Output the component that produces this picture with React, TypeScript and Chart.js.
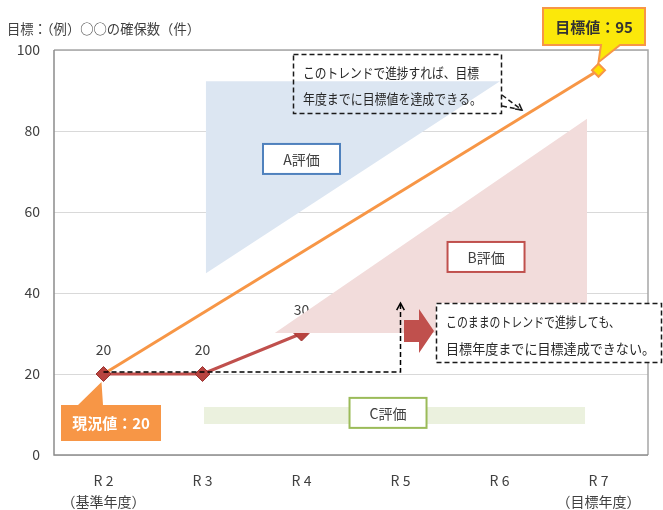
import React, { useEffect, useRef } from "react";
import { Chart, registerables } from "chart.js";

Chart.register(...registerables);

// ---- data ----
const categories: string[][] = [["R 2", "（基準年度）"], ["R 3"], ["R 4"], ["R 5"], ["R 6"], ["R 7", "（目標年度）"]];
const currentValues: (number | null)[] = [20, 20, 30, null, null, null];
const targetValues: (number | null)[] = [20, null, null, null, null, 95];
const yMin = 0;
const yMax = 100;
const yStep = 20;
const yAxisTitle = "目標：（例）○○の確保数（件）";
const currentLabel = "現況値：20";
const targetLabel = "目標値：95";
const noteTop = ["このトレンドで進捗すれば、目標", "年度までに目標値を達成できる。"];
const noteBottom = ["このままのトレンドで進捗しても、", "目標年度までに目標達成できない。"];
const zoneLabels = ["A評価", "B評価", "C評価"];

// evaluation zones in data space: [category index, value]
const zoneA: number[][] = [[1.035, 92.3], [4.005, 92.3], [1.035, 44.9]];
const zoneB: number[][] = [[1.73, 30.1], [4.884, 83], [4.884, 30.1]];
const zoneC: number[][] = [[1.015, 11.85], [4.864, 7.65]];

const FONT = "'Noto Sans CJK JP', 'Noto Sans', sans-serif";

function poly(ctx: CanvasRenderingContext2D, pts: number[][], fill: string) {
  ctx.beginPath();
  pts.forEach((p, i) => (i ? ctx.lineTo(p[0], p[1]) : ctx.moveTo(p[0], p[1])));
  ctx.closePath();
  ctx.fillStyle = fill;
  ctx.fill();
}

function labelBox(ctx: CanvasRenderingContext2D, cx: number, cy: number, text: string, color: string) {
  const w = 77, h = 30;
  ctx.fillStyle = "#FFFFFF";
  ctx.fillRect(cx - w / 2, cy - h / 2, w, h);
  ctx.strokeStyle = color;
  ctx.lineWidth = 2;
  ctx.setLineDash([]);
  ctx.strokeRect(cx - w / 2, cy - h / 2, w, h);
  ctx.fillStyle = "#404040";
  ctx.font = `14px ${FONT}`;
  ctx.textAlign = "center";
  ctx.textBaseline = "middle";
  ctx.fillText(text, cx, cy + 1);
}

function arrowHead(ctx: CanvasRenderingContext2D, tx: number, ty: number, ang: number, s: number) {
  ctx.save();
  ctx.setLineDash([]);
  ctx.beginPath();
  ctx.moveTo(tx - s * Math.cos(ang - 0.5), ty - s * Math.sin(ang - 0.5));
  ctx.lineTo(tx, ty);
  ctx.lineTo(tx - s * Math.cos(ang + 0.5), ty - s * Math.sin(ang + 0.5));
  ctx.stroke();
  ctx.restore();
}

const annotations = {
  id: "annotations",
  beforeDatasetsDraw(chart: any) {
    const { ctx, chartArea: a, scales } = chart;
    const X = (v: number) => scales.x.getPixelForValue(v);
    const Y = (v: number) => scales.y.getPixelForValue(v);
    ctx.save();
    poly(ctx, zoneA.map((p) => [X(p[0]), Y(p[1])]), "#DCE6F2");
    ctx.fillStyle = "#EBF1DE";
    ctx.fillRect(X(zoneC[0][0]), Y(zoneC[0][1]), X(zoneC[1][0]) - X(zoneC[0][0]), Y(zoneC[1][1]) - Y(zoneC[0][1]));
    // plot border
    ctx.lineWidth = 1.5;
    ctx.strokeStyle = "#A6A6A6";
    ctx.beginPath();
    ctx.moveTo(a.left, a.top);
    ctx.lineTo(a.right, a.top);
    ctx.lineTo(a.right, a.bottom);
    ctx.stroke();
    ctx.strokeStyle = "#8C8C8C";
    ctx.beginPath();
    ctx.moveTo(a.left, a.top);
    ctx.lineTo(a.left, a.bottom);
    ctx.lineTo(a.right, a.bottom);
    ctx.stroke();
    labelBox(ctx, X(2.0), Y(73.1), zoneLabels[0], "#4F81BD");
    labelBox(ctx, X(2.874), Y(10.4), zoneLabels[2], "#9BBB59");
    // axis title
    ctx.fillStyle = "#404040";
    ctx.font = `13.5px ${FONT}`;
    ctx.textAlign = "left";
    ctx.textBaseline = "middle";
    ctx.fillText(yAxisTitle, 7, 29, 193);
    ctx.restore();
  },
  afterDatasetsDraw(chart: any) {
    const { ctx, scales } = chart;
    const X = (v: number) => scales.x.getPixelForValue(v);
    const Y = (v: number) => scales.y.getPixelForValue(v);
    ctx.save();
    // data labels
    ctx.fillStyle = "#404040";
    ctx.font = `14px ${FONT}`;
    ctx.textAlign = "center";
    ctx.textBaseline = "middle";
    currentValues.forEach((v, i) => {
      if (v == null) return;
      ctx.fillText(String(v), X(i), Y(v) - 24);
    });
    // zone B
    poly(ctx, zoneB.map((p) => [X(p[0]), Y(p[1])]), "#F2DCDB");
    labelBox(ctx, X(3.864), Y(48.9), zoneLabels[1], "#C0504D");

    // dashed connector
    ctx.strokeStyle = "#000000";
    ctx.lineWidth = 1.5;
    ctx.setLineDash([5, 3]);
    ctx.beginPath();
    ctx.moveTo(X(0), Y(20.5));
    ctx.lineTo(X(3), Y(20.5));
    ctx.lineTo(X(3), Y(37.5));
    ctx.stroke();
    arrowHead(ctx, X(3), Y(37.5), -Math.PI / 2, 8);

    // red block arrow
    ctx.setLineDash([]);
    ctx.fillStyle = "#C0504D";
    ctx.beginPath();
    ctx.moveTo(404, 320);
    ctx.lineTo(419, 320);
    ctx.lineTo(419, 309);
    ctx.lineTo(434, 331);
    ctx.lineTo(419, 353);
    ctx.lineTo(419, 342);
    ctx.lineTo(404, 342);
    ctx.closePath();
    ctx.fill();

    // bottom note
    ctx.fillStyle = "#FFFFFF";
    ctx.fillRect(436, 303, 226, 60);
    ctx.setLineDash([5, 3]);
    ctx.strokeStyle = "#1A1A1A";
    ctx.strokeRect(436.5, 303.5, 225, 59);
    ctx.fillStyle = "#262626";
    ctx.font = `13.5px ${FONT}`;
    ctx.textAlign = "left";
    ctx.fillText(noteBottom[0], 446, 322, 174);
    ctx.fillText(noteBottom[1], 446, 349, 209);

    // top note
    ctx.strokeRect(293.5, 54.5, 208, 59);
    ctx.fillText(noteTop[0], 303, 73, 176);
    ctx.fillText(noteTop[1], 303, 99, 179);
    ctx.beginPath();
    ctx.moveTo(502, 95);
    ctx.lineTo(522, 110);
    ctx.moveTo(502, 106);
    ctx.lineTo(522, 110);
    ctx.stroke();
    arrowHead(ctx, 522, 110, Math.atan2(15, 20), 7);

    // target callout
    ctx.setLineDash([]);
    const tx = X(5), ty = Y(95) - 8;
    ctx.beginPath();
    ctx.moveTo(543, 8);
    ctx.lineTo(645, 8);
    ctx.lineTo(645, 45);
    ctx.lineTo(620, 45);
    ctx.lineTo(tx, ty);
    ctx.lineTo(601, 45);
    ctx.lineTo(543, 45);
    ctx.closePath();
    ctx.fillStyle = "#FBE80A";
    ctx.fill();
    ctx.strokeStyle = "#F79646";
    ctx.lineWidth = 2;
    ctx.stroke();
    ctx.fillStyle = "#333333";
    ctx.font = `bold 15px ${FONT}`;
    ctx.textAlign = "center";
    ctx.fillText(targetLabel, 594, 27);

    // current callout
    const cx = X(0) - 2, cy = Y(20) + 8;
    ctx.beginPath();
    ctx.moveTo(61, 405);
    ctx.lineTo(78, 405);
    ctx.lineTo(cx, cy);
    ctx.lineTo(103, 405);
    ctx.lineTo(161, 405);
    ctx.lineTo(161, 441);
    ctx.lineTo(61, 441);
    ctx.closePath();
    ctx.fillStyle = "#F79646";
    ctx.fill();
    ctx.fillStyle = "#FFFFFF";
    ctx.fillText(currentLabel, 111, 423);
    ctx.restore();
  },
};

export default function App() {
  const ref = useRef<HTMLCanvasElement>(null);
  useEffect(() => {
    document.body.style.margin = "0";
    const chart = new Chart(ref.current as HTMLCanvasElement, {
      type: "line",
      data: {
        labels: categories as any,
        datasets: [
          {
            data: currentValues,
            borderColor: "#C0504D",
            borderWidth: 3,
            pointStyle: "rectRot",
            pointRadius: 7.5,
            pointBackgroundColor: "#B8433F",
            pointBorderColor: "#9C3330",
            pointBorderWidth: 1,
            tension: 0,
          },
          {
            data: targetValues,
            borderColor: "#F79646",
            borderWidth: 3,
            spanGaps: true,
            pointStyle: "rectRot",
            pointRadius: [0, 0, 0, 0, 0, 6.5],
            pointBackgroundColor: "#FFE100",
            pointBorderColor: "#F79646",
            pointBorderWidth: 2,
            tension: 0,
          },
        ],
      },
      options: {
        responsive: false,
        animation: false,
        devicePixelRatio: 1,
        layout: { padding: { top: 50, right: 15, left: 0, bottom: 0 } },
        plugins: { legend: { display: false }, tooltip: { enabled: false } },
        scales: {
          x: {
            offset: true,
            grid: { display: false, drawTicks: false },
            border: { display: false },
            ticks: {
              color: "#404040",
              font: { family: FONT, size: 14, lineHeight: 1.45 },
              padding: 16,
              maxRotation: 0,
              autoSkip: false,
            },
            afterFit: (s: any) => {
              s.height = 55;
            },
          },
          y: {
            min: yMin,
            max: yMax,
            ticks: { stepSize: yStep, color: "#404040", font: { family: FONT, size: 14 }, padding: 14 },
            grid: { color: "#D9D9D9", drawTicks: false },
            border: { display: false },
            afterFit: (s: any) => {
              s.width = 54;
            },
          },
        },
      },
      plugins: [annotations],
    } as any);
    return () => chart.destroy();
  }, []);
  return (
    <div style={{ width: 663, height: 510 }}>
      <canvas ref={ref} width={663} height={510} />
    </div>
  );
}
